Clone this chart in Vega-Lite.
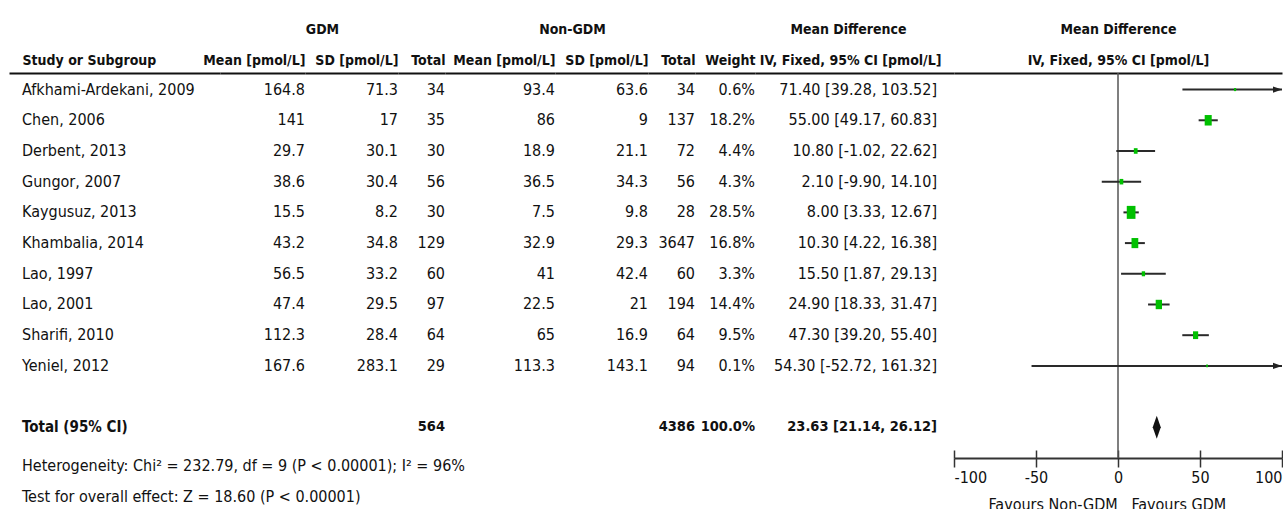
{
  "$schema": "https://vega.github.io/schema/vega-lite/v6.json",
  "padding": {"left": 9, "top": 22, "right": 0, "bottom": 0},
  "autosize": {"type": "pad"},
  "spacing": 0,
  "bounds": "flush",
  "config": {
    "font": "Liberation Sans Narrow, DejaVu Sans Condensed, sans-serif",
    "view": {"stroke": null},
    "text": {"fontSize": 16, "color": "#111"},
    "axis": {"grid": false, "labelFontSize": 16, "titleFontSize": 16, "labelColor": "#111", "titleColor": "#111", "labelLimit": 0, "labelAngle": 0},
    "axisTop": {"ticks": false, "tickSize": 0, "domainColor": "#111", "domainWidth": 2, "labelPadding": 6, "labelFontSize": 14, "titleFontSize": 14, "labelFontWeight": "bold", "labelBaseline": "bottom", "titlePadding": 17, "titleFontWeight": "bold"}
  },
  "datasets": {
    "rows": [
      {"row": 0, "kind": "study", "label": "Afkhami-Ardekani, 2009", "gm": "164.8", "gsd": "71.3", "gn": "34", "nm": "93.4", "nsd": "63.6", "nn": "34", "w": "0.6%", "ci": "71.40 [39.28, 103.52]", "md": 71.4, "lo": 39.28, "hi": 103.52, "wt": 0.6},
      {"row": 1, "kind": "study", "label": "Chen, 2006", "gm": "141", "gsd": "17", "gn": "35", "nm": "86", "nsd": "9", "nn": "137", "w": "18.2%", "ci": "55.00 [49.17, 60.83]", "md": 55.0, "lo": 49.17, "hi": 60.83, "wt": 18.2},
      {"row": 2, "kind": "study", "label": "Derbent, 2013", "gm": "29.7", "gsd": "30.1", "gn": "30", "nm": "18.9", "nsd": "21.1", "nn": "72", "w": "4.4%", "ci": "10.80 [-1.02, 22.62]", "md": 10.8, "lo": -1.02, "hi": 22.62, "wt": 4.4},
      {"row": 3, "kind": "study", "label": "Gungor, 2007", "gm": "38.6", "gsd": "30.4", "gn": "56", "nm": "36.5", "nsd": "34.3", "nn": "56", "w": "4.3%", "ci": "2.10 [-9.90, 14.10]", "md": 2.1, "lo": -9.9, "hi": 14.1, "wt": 4.3},
      {"row": 4, "kind": "study", "label": "Kaygusuz, 2013", "gm": "15.5", "gsd": "8.2", "gn": "30", "nm": "7.5", "nsd": "9.8", "nn": "28", "w": "28.5%", "ci": "8.00 [3.33, 12.67]", "md": 8.0, "lo": 3.33, "hi": 12.67, "wt": 28.5},
      {"row": 5, "kind": "study", "label": "Khambalia, 2014", "gm": "43.2", "gsd": "34.8", "gn": "129", "nm": "32.9", "nsd": "29.3", "nn": "3647", "w": "16.8%", "ci": "10.30 [4.22, 16.38]", "md": 10.3, "lo": 4.22, "hi": 16.38, "wt": 16.8},
      {"row": 6, "kind": "study", "label": "Lao, 1997", "gm": "56.5", "gsd": "33.2", "gn": "60", "nm": "41", "nsd": "42.4", "nn": "60", "w": "3.3%", "ci": "15.50 [1.87, 29.13]", "md": 15.5, "lo": 1.87, "hi": 29.13, "wt": 3.3},
      {"row": 7, "kind": "study", "label": "Lao, 2001", "gm": "47.4", "gsd": "29.5", "gn": "97", "nm": "22.5", "nsd": "21", "nn": "194", "w": "14.4%", "ci": "24.90 [18.33, 31.47]", "md": 24.9, "lo": 18.33, "hi": 31.47, "wt": 14.4},
      {"row": 8, "kind": "study", "label": "Sharifi, 2010", "gm": "112.3", "gsd": "28.4", "gn": "64", "nm": "65", "nsd": "16.9", "nn": "64", "w": "9.5%", "ci": "47.30 [39.20, 55.40]", "md": 47.3, "lo": 39.2, "hi": 55.4, "wt": 9.5},
      {"row": 9, "kind": "study", "label": "Yeniel, 2012", "gm": "167.6", "gsd": "283.1", "gn": "29", "nm": "113.3", "nsd": "143.1", "nn": "94", "w": "0.1%", "ci": "54.30 [-52.72, 161.32]", "md": 54.3, "lo": -52.72, "hi": 161.32, "wt": 0.1},
      {"row": 11, "kind": "total", "label": "Total (95% CI)", "gn": "564", "nn": "4386", "w": "100.0%", "ci": "23.63 [21.14, 26.12]", "md": 23.63, "lo": 21.14, "hi": 26.12, "wt": 100},
      {"row": 12, "kind": "note", "label": "Heterogeneity: Chi² = 232.79, df = 9 (P < 0.00001); I² = 96%"},
      {"row": 13, "kind": "note", "label": "Test for overall effect: Z = 18.60 (P < 0.00001)"}
    ],
    "ref": [{"v": 0}]
  },
  "hconcat": [
    {
      "width": 211, "height": 385,
      "data": {"name": "rows"},
      "transform": [{"fold": ["label"], "as": ["col", "val"]}],
      "encoding": {
        "x": {"field": "col", "type": "nominal", "scale": {"type": "point", "padding": 0, "align": 0},
              "axis": {"orient": "top", "labelExpr": "'Study or Subgroup'", "labelAlign": "left", "labelOffset": 13, "title": null}},
        "y": {"field": "row", "type": "quantitative", "scale": {"domain": [-0.54, 12], "reverse": true, "nice": false, "zero": false}, "axis": null},
        "text": {"field": "val"}
      },
      "layer": [
        {"transform": [{"filter": "datum.kind === 'study'"}],
         "mark": {"type": "text", "align": "left", "baseline": "middle", "dx": 13}},
        {"transform": [{"filter": "datum.kind === 'total'"}],
         "mark": {"type": "text", "align": "left", "baseline": "middle", "dx": 13, "fontWeight": "bold", "fontSize": 15}},
        {"transform": [{"filter": "datum.kind === 'note'"}],
         "mark": {"type": "text", "align": "left", "baseline": "middle", "dx": 13, "dy": 8}}
      ]
    },
    {
      "width": 85, "height": 385,
      "data": {"name": "rows"},
      "transform": [{"fold": ["gm"], "as": ["col", "val"]}, {"filter": "isValid(datum.val)"}],
      "encoding": {
        "x": {"field": "col", "type": "nominal", "scale": {"type": "point", "padding": 0, "align": 1},
              "axis": {"orient": "top", "labelExpr": "'Mean [pmol/L]'", "labelAlign": "right", "title": "GDM", "titleX": 102, "titleAlign": "center"}},
        "y": {"field": "row", "type": "quantitative", "scale": {"domain": [-0.54, 12], "reverse": true, "nice": false, "zero": false}, "axis": null},
        "text": {"field": "val"}
      },
      "layer": [
        {"transform": [{"filter": "datum.kind === 'study'"}], "mark": {"type": "text", "align": "right", "baseline": "middle"}},
        {"transform": [{"filter": "datum.kind === 'total'"}], "mark": {"type": "text", "align": "right", "baseline": "middle", "fontWeight": "bold", "fontSize": 14.5}}
      ]
    },
    {
      "width": 93, "height": 385,
      "data": {"name": "rows"},
      "transform": [{"fold": ["gsd"], "as": ["col", "val"]}, {"filter": "isValid(datum.val)"}],
      "encoding": {
        "x": {"field": "col", "type": "nominal", "scale": {"type": "point", "padding": 0, "align": 1},
              "axis": {"orient": "top", "labelExpr": "'SD [pmol/L]'", "labelAlign": "right", "title": null}},
        "y": {"field": "row", "type": "quantitative", "scale": {"domain": [-0.54, 12], "reverse": true, "nice": false, "zero": false}, "axis": null},
        "text": {"field": "val"}
      },
      "layer": [
        {"transform": [{"filter": "datum.kind === 'study'"}], "mark": {"type": "text", "align": "right", "baseline": "middle"}},
        {"transform": [{"filter": "datum.kind === 'total'"}], "mark": {"type": "text", "align": "right", "baseline": "middle", "fontWeight": "bold", "fontSize": 14.5}}
      ]
    },
    {
      "width": 47, "height": 385,
      "data": {"name": "rows"},
      "transform": [{"fold": ["gn"], "as": ["col", "val"]}, {"filter": "isValid(datum.val)"}],
      "encoding": {
        "x": {"field": "col", "type": "nominal", "scale": {"type": "point", "padding": 0, "align": 1},
              "axis": {"orient": "top", "labelExpr": "'Total'", "labelAlign": "right", "title": null}},
        "y": {"field": "row", "type": "quantitative", "scale": {"domain": [-0.54, 12], "reverse": true, "nice": false, "zero": false}, "axis": null},
        "text": {"field": "val"}
      },
      "layer": [
        {"transform": [{"filter": "datum.kind === 'study'"}], "mark": {"type": "text", "align": "right", "baseline": "middle"}},
        {"transform": [{"filter": "datum.kind === 'total'"}], "mark": {"type": "text", "align": "right", "baseline": "middle", "fontWeight": "bold", "fontSize": 14.5}}
      ]
    },
    {
      "width": 110, "height": 385,
      "data": {"name": "rows"},
      "transform": [{"fold": ["nm"], "as": ["col", "val"]}, {"filter": "isValid(datum.val)"}],
      "encoding": {
        "x": {"field": "col", "type": "nominal", "scale": {"type": "point", "padding": 0, "align": 1},
              "axis": {"orient": "top", "labelExpr": "'Mean [pmol/L]'", "labelAlign": "right", "title": "Non-GDM", "titleX": 127, "titleAlign": "center"}},
        "y": {"field": "row", "type": "quantitative", "scale": {"domain": [-0.54, 12], "reverse": true, "nice": false, "zero": false}, "axis": null},
        "text": {"field": "val"}
      },
      "layer": [
        {"transform": [{"filter": "datum.kind === 'study'"}], "mark": {"type": "text", "align": "right", "baseline": "middle"}},
        {"transform": [{"filter": "datum.kind === 'total'"}], "mark": {"type": "text", "align": "right", "baseline": "middle", "fontWeight": "bold", "fontSize": 14.5}}
      ]
    },
    {
      "width": 93, "height": 385,
      "data": {"name": "rows"},
      "transform": [{"fold": ["nsd"], "as": ["col", "val"]}, {"filter": "isValid(datum.val)"}],
      "encoding": {
        "x": {"field": "col", "type": "nominal", "scale": {"type": "point", "padding": 0, "align": 1},
              "axis": {"orient": "top", "labelExpr": "'SD [pmol/L]'", "labelAlign": "right", "title": null}},
        "y": {"field": "row", "type": "quantitative", "scale": {"domain": [-0.54, 12], "reverse": true, "nice": false, "zero": false}, "axis": null},
        "text": {"field": "val"}
      },
      "layer": [
        {"transform": [{"filter": "datum.kind === 'study'"}], "mark": {"type": "text", "align": "right", "baseline": "middle"}},
        {"transform": [{"filter": "datum.kind === 'total'"}], "mark": {"type": "text", "align": "right", "baseline": "middle", "fontWeight": "bold", "fontSize": 14.5}}
      ]
    },
    {
      "width": 47, "height": 385,
      "data": {"name": "rows"},
      "transform": [{"fold": ["nn"], "as": ["col", "val"]}, {"filter": "isValid(datum.val)"}],
      "encoding": {
        "x": {"field": "col", "type": "nominal", "scale": {"type": "point", "padding": 0, "align": 1},
              "axis": {"orient": "top", "labelExpr": "'Total'", "labelAlign": "right", "title": null}},
        "y": {"field": "row", "type": "quantitative", "scale": {"domain": [-0.54, 12], "reverse": true, "nice": false, "zero": false}, "axis": null},
        "text": {"field": "val"}
      },
      "layer": [
        {"transform": [{"filter": "datum.kind === 'study'"}], "mark": {"type": "text", "align": "right", "baseline": "middle"}},
        {"transform": [{"filter": "datum.kind === 'total'"}], "mark": {"type": "text", "align": "right", "baseline": "middle", "fontWeight": "bold", "fontSize": 14.5}}
      ]
    },
    {
      "width": 60, "height": 385,
      "data": {"name": "rows"},
      "transform": [{"fold": ["w"], "as": ["col", "val"]}, {"filter": "isValid(datum.val)"}],
      "encoding": {
        "x": {"field": "col", "type": "nominal", "scale": {"type": "point", "padding": 0, "align": 1},
              "axis": {"orient": "top", "labelExpr": "'Weight'", "labelAlign": "right", "title": null}},
        "y": {"field": "row", "type": "quantitative", "scale": {"domain": [-0.54, 12], "reverse": true, "nice": false, "zero": false}, "axis": null},
        "text": {"field": "val"}
      },
      "layer": [
        {"transform": [{"filter": "datum.kind === 'study'"}], "mark": {"type": "text", "align": "right", "baseline": "middle"}},
        {"transform": [{"filter": "datum.kind === 'total'"}], "mark": {"type": "text", "align": "right", "baseline": "middle", "fontWeight": "bold", "fontSize": 14.5}}
      ]
    },
    {
      "width": 199, "height": 385,
      "data": {"name": "rows"},
      "transform": [{"fold": ["ci"], "as": ["col", "val"]}, {"filter": "isValid(datum.val)"}],
      "encoding": {
        "x": {"field": "col", "type": "nominal", "scale": {"type": "point", "padding": 0, "align": 1},
              "axis": {"orient": "top", "labelExpr": "'IV, Fixed, 95% CI [pmol/L]'", "labelAlign": "right", "labelOffset": -13, "title": "Mean Difference", "titleX": 93, "titleAlign": "center"}},
        "y": {"field": "row", "type": "quantitative", "scale": {"domain": [-0.54, 12], "reverse": true, "nice": false, "zero": false}, "axis": null},
        "text": {"field": "val"}
      },
      "layer": [
        {"transform": [{"filter": "datum.kind === 'study'"}], "mark": {"type": "text", "align": "right", "baseline": "middle", "dx": -17}},
        {"transform": [{"filter": "datum.kind === 'total'"}], "mark": {"type": "text", "align": "right", "baseline": "middle", "dx": -17, "fontWeight": "bold", "fontSize": 14.5}}
      ]
    },
    {
      "width": 328, "height": 385,
      "resolve": {"axis": {"x": "independent"}},
      "layer": [
        {
          "data": {"name": "ref"},
          "mark": {"type": "rule", "color": "#555", "strokeWidth": 1.5},
          "encoding": {
            "x": {"field": "v", "type": "quantitative", "scale": {"domain": [-100, 100], "clamp": true, "nice": false, "zero": false},
                  "axis": {"orient": "top", "values": [0], "labelExpr": "'IV, Fixed, 95% CI [pmol/L]'", "labelAlign": "center", "title": "Mean Difference"}}
          }
        },
        {
          "data": {"name": "rows"},
          "transform": [{"filter": "datum.kind === 'study'"}],
          "mark": {"type": "rule", "color": "#2a2a2a", "strokeWidth": 2},
          "encoding": {
            "x": {"field": "lo", "type": "quantitative",
                  "axis": {"orient": "bottom", "values": [-100, -50, 0, 50, 100], "labelExpr": "'' + datum.value", "tickSize": 9, "tickColor": "#333", "tickWidth": 1.5, "domainColor": "#333", "domainWidth": 2, "labelFlush": true, "labelPadding": 2, "labelFontWeight": "normal", "title": "Favours Non-GDM\u00a0\u00a0\u00a0Favours GDM", "titleFontWeight": "normal", "titleX": 34, "titleAlign": "left", "titlePadding": 11}},
            "x2": {"field": "hi"},
            "y": {"field": "row", "type": "quantitative", "scale": {"domain": [-0.54, 12], "reverse": true, "nice": false, "zero": false}, "axis": null}
          }
        },
        {
          "data": {"name": "rows"},
          "transform": [{"filter": "datum.kind === 'study'"}],
          "mark": {"type": "point", "filled": true, "opacity": 1, "color": "#00c000", "shape": "M-0.67,-1L0.67,-1L0.67,1L-0.67,1Z"},
          "encoding": {
            "x": {"field": "md", "type": "quantitative",
                  "axis": {"orient": "bottom", "values": [-100, -50, 0, 50, 100], "tickSize": -8, "tickColor": "#333", "tickWidth": 1.5, "domain": false, "labels": false, "title": null}},
            "y": {"field": "row", "type": "quantitative"},
            "size": {"field": "wt", "type": "quantitative", "scale": {"domain": [0, 28.5], "range": [6, 169], "zero": false}, "legend": null}
          }
        },
        {
          "data": {"name": "rows"},
          "transform": [{"filter": "datum.kind === 'study' && datum.hi > 100"}],
          "mark": {"type": "point", "filled": true, "opacity": 1, "color": "#222", "shape": "M-2,-0.7L0,0L-2,0.7Z", "size": 81},
          "encoding": {
            "x": {"field": "hi", "type": "quantitative", "axis": null},
            "y": {"field": "row", "type": "quantitative"}
          }
        },
        {
          "data": {"name": "rows"},
          "transform": [{"filter": "datum.kind === 'total'"}],
          "mark": {"type": "point", "filled": true, "opacity": 1, "color": "#111", "shape": "M0,-1L0.35,0L0,1L-0.35,0Z", "size": 529},
          "encoding": {
            "x": {"field": "md", "type": "quantitative", "axis": null},
            "y": {"field": "row", "type": "quantitative"}
          }
        }
      ]
    }
  ]
}
